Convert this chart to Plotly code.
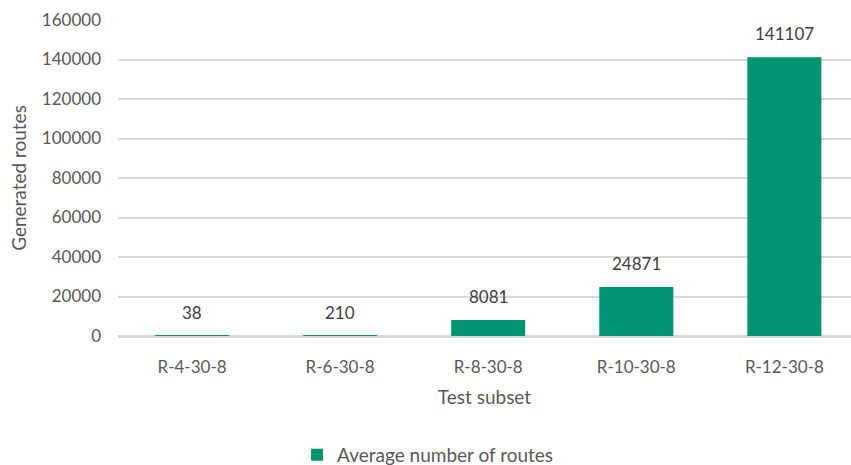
import plotly.graph_objects as go

# Average number of generated routes per test subset
subsets = ["R-4-30-8", "R-6-30-8", "R-8-30-8", "R-10-30-8", "R-12-30-8"]
avg_routes = [38, 210, 8081, 24871, 141107]
y_ticks = [0, 20000, 40000, 60000, 80000, 100000, 120000, 140000, 160000]

BAR_COLOR = "#009473"
FONT = "Lato"
TEXT_GREY = "#595959"

fig = go.Figure()
fig.add_trace(go.Bar(
    x=subsets,
    y=avg_routes,
    name="Average number of routes",
    marker=dict(color=BAR_COLOR, line=dict(width=0)),
))

# value labels above each bar
for cat, val in zip(subsets, avg_routes):
    fig.add_annotation(
        x=cat, y=val, xref="x", yref="y",
        text=str(val), showarrow=False,
        yanchor="bottom", yshift=11,
        font=dict(family=FONT, size=17, color="#404040"),
    )

fig.update_layout(
    width=851, height=465,
    margin=dict(l=118, r=0, t=20, b=129, autoexpand=False),
    paper_bgcolor="white",
    plot_bgcolor="white",
    bargap=0.5,
    font=dict(family=FONT, size=17, color=TEXT_GREY),
    showlegend=True,
    legend=dict(
        orientation="h",
        x=0.423, xanchor="center",
        y=-0.376, yanchor="middle",
        font=dict(family=FONT, size=19, color=TEXT_GREY),
        itemwidth=30,
        itemsizing="constant",
    ),
)

fig.update_xaxes(
    range=[-0.5, 4.45],
    automargin=False,
    showgrid=False,
    showline=False,
    ticks="",
    ticklabelstandoff=19,
    tickfont=dict(family=FONT, size=17, color=TEXT_GREY),
    title=dict(text="Test subset", font=dict(family=FONT, size=19, color=TEXT_GREY), standoff=14),
)

fig.update_yaxes(
    range=[0, 160000],
    automargin=False,
    layer="above traces",
    tickvals=y_ticks,
    ticktext=[str(v) for v in y_ticks],
    showgrid=True,
    gridcolor="#d9d9d9",
    gridwidth=1.5,
    zeroline=True,
    zerolinecolor="#d9d9d9",
    zerolinewidth=3,
    showline=False,
    ticks="",
    ticklabelstandoff=16,
    tickfont=dict(family=FONT, size=17, color=TEXT_GREY),
    title=dict(text="Generated routes", font=dict(family=FONT, size=19, color=TEXT_GREY), standoff=10),
)

fig.write_html("out.html")
